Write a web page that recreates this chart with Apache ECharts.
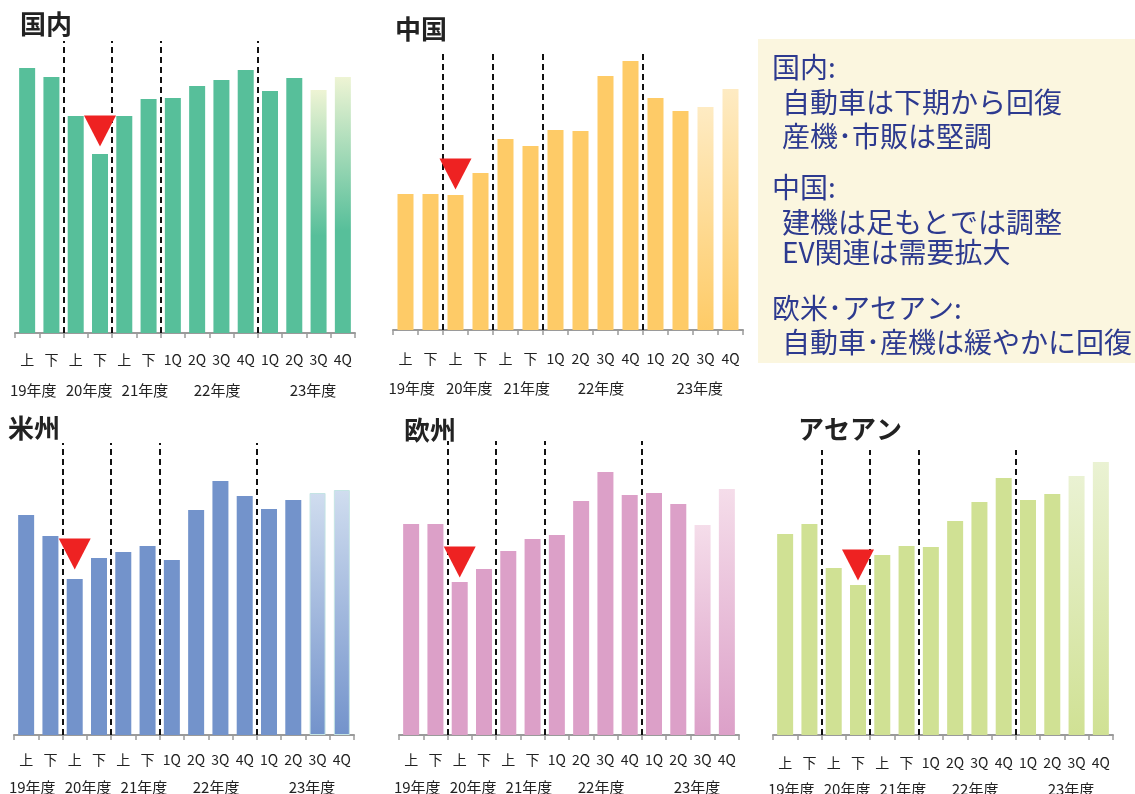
<!DOCTYPE html>
<html>
<head>
<meta charset="utf-8">
<script src="https://cdn.jsdelivr.net/npm/echarts@6/dist/echarts.min.js"></script>
<style>
  html, body { margin: 0; padding: 0; background: #fff; }
  #main { width: 1135px; height: 794px; }
</style>
</head>
<body>
<div id="main"></div>
<script>
// 期間ラベル
const periodLabels = ['上', '下', '上', '下', '上', '下', '1Q', '2Q', '3Q', '4Q', '1Q', '2Q', '3Q', '4Q'];
const yearLabels = ['19年度', '20年度', '21年度', '22年度', '23年度'];
const yearSizes = [2, 2, 2, 4, 4];
const forecastFrom = 12; // 23年度 3Q,4Q は見通し

// 地域別の値
const domestic = [265, 256, 217, 179, 217, 234, 235, 247, 253, 263, 242, 255, 243, 256];
const china = [136, 136, 135, 157, 191, 184, 200, 199, 254, 269, 232, 219, 223, 241];
const americas = [220, 199, 156, 177, 183, 189, 175, 225, 254, 239, 226, 235, 242, 245];
const europe = [211, 211, 153, 166, 184, 196, 200, 234, 263, 240, 242, 231, 210, 246];
const asean = [201, 211, 167, 150, 180, 189, 188, 214, 233, 257, 235, 241, 259, 273];

// 落ち込みマーカー [期間index, 値]
const domesticDrop = [3, 202];
const chinaDrop = [2, 156];
const americasDrop = [2, 181];
const europeDrop = [2, 173];
const aseanDrop = [3, 170];

const noteLines = ['国内:', '自動車は下期から回復', '産機･市販は堅調', '中国:', '建機は足もとでは調整', 'EV関連は需要拡大', '欧米･アセアン:', '自動車･産機は緩やかに回復'];

// レイアウト
const noteY = [67, 102, 136, 187, 222, 252, 308, 342];
const noteIndent = [0, 1, 1, 0, 1, 1, 0, 1];
// 年度ラベルの位置（棒の幅単位、元図では少しずれている）
const yearLabelPos = [0.75, 3.05, 5.35, 8.32, 12.27];

const panels = [
  {name: '国内', values: domestic, drop: domesticDrop, color: '#57BF9A', fade: '#EEF4D4', stop: 0.6, border: null,
    left: 15, top: 41, width: 340, height: 292, tl: 20, tt: 11, gap1: 20, gap2: 50},
  {name: '中国', values: china, drop: chinaDrop, color: '#FECB67', fade: '#FEEBC3', stop: 1, border: null,
    left: 393, top: 50, width: 350, height: 280, tl: 395, tt: 16, gap1: 22, gap2: 51},
  {name: '米州', values: americas, drop: americasDrop, color: '#7393CB', fade: '#D0DDEF', stop: 1, border: '#C4E4E4',
    left: 14, top: 443, width: 340, height: 292, tl: 8, tt: 415, gap1: 18, gap2: 45},
  {name: '欧州', values: europe, drop: europeDrop, color: '#DCA0C8', fade: '#F5DDEA', stop: 1, border: null,
    left: 399, top: 441, width: 340, height: 294, tl: 404, tt: 417, gap1: 18, gap2: 45},
  {name: 'アセアン', values: asean, drop: aseanDrop, color: '#D0E194', fade: '#EAF2D3', stop: 1, border: null,
    left: 773, top: 450, width: 340, height: 285, tl: 798, tt: 416, gap1: 21, gap2: 47}
];

const FONT = '"Noto Sans CJK JP", "Noto Sans", sans-serif';

// 年度の区切り
let boundaries = [];
let acc = 0;
yearSizes.forEach((s, i) => {
  acc += s;
  if (i < yearSizes.length - 1) boundaries.push(acc);
});

function yearFormatter(v) {
  let i = yearLabelPos.findIndex(p => Math.abs(p - v) < 1e-6);
  return i >= 0 ? yearLabels[i] : '';
}

let option = {
  animation: false,
  backgroundColor: '#fff',
  title: [],
  grid: [],
  xAxis: [],
  yAxis: [],
  series: [],
  graphic: []
};

panels.forEach((p, k) => {
  option.title.push({
    text: p.name, left: p.tl, top: p.tt, padding: 0,
    textStyle: {fontFamily: FONT, fontSize: 26, fontWeight: 'bold', color: '#222'}
  });
  option.grid.push({
    left: p.left, top: p.top, width: p.width, height: p.height,
    containLabel: false, outerBoundsMode: 'none'
  });
  // 期間ラベルの軸
  option.xAxis.push({
    type: 'category', gridIndex: k, position: 'bottom', data: periodLabels,
    boundaryGap: true,
    axisLine: {show: true, onZero: false, lineStyle: {color: '#9A9A9A', width: 2}},
    axisTick: {show: true, length: 5, lineStyle: {color: '#9A9A9A', width: 1.5}},
    axisLabel: {margin: p.gap1, interval: 0, color: '#222', fontSize: 14, fontFamily: FONT},
    splitLine: {show: false}
  });
  // 年度ラベル・区切り線用の軸
  option.xAxis.push({
    type: 'value', gridIndex: k, position: 'bottom', min: 0, max: periodLabels.length,
    axisLine: {show: false, onZero: false},
    axisTick: {show: false},
    splitLine: {show: false},
    axisLabel: {
      margin: p.gap2, color: '#222', fontSize: 15, fontFamily: FONT,
      customValues: yearLabelPos,
      formatter: yearFormatter
    }
  });
  option.yAxis.push({
    type: 'value', gridIndex: k, min: 0, max: p.height, show: false,
    splitLine: {show: false}
  });

  let fadeColor = new echarts.graphic.LinearGradient(0, 0, 0, 1, [
    {offset: 0, color: p.fade},
    {offset: p.stop, color: p.color},
    {offset: 1, color: p.color}
  ]);
  option.series.push({
    name: p.name, type: 'bar', xAxisIndex: 2 * k, yAxisIndex: k,
    barWidth: 16,
    itemStyle: {color: p.color},
    data: p.values.map((v, i) => i >= forecastFrom
      ? {value: v, itemStyle: {color: fadeColor, borderColor: p.border || 'transparent', borderWidth: p.border ? 1 : 0}}
      : v)
  });
  option.series.push({
    type: 'scatter', xAxisIndex: 2 * k, yAxisIndex: k, z: 5,
    symbol: 'triangle', symbolRotate: 180, symbolSize: [32, 31],
    itemStyle: {color: '#EE2222', opacity: 1},
    silent: true,
    data: [p.drop]
  });
  option.series.push({
    type: 'line', xAxisIndex: 2 * k + 1, yAxisIndex: k, data: [], z: 4,
    markLine: {
      silent: true, symbol: ['none', 'none'],
      label: {show: false},
      lineStyle: {color: '#111', width: 2, type: [6, 4]},
      data: boundaries.map(b => ({xAxis: b}))
    }
  });
});

// コメント枠
option.graphic.push({
  type: 'rect', left: 758, top: 39, shape: {width: 380, height: 324},
  style: {fill: '#FBF6DF'}, silent: true
});
noteLines.forEach((t, i) => {
  option.graphic.push({
    type: 'text', x: noteIndent[i] ? 782 : 772, y: noteY[i],
    style: {text: t, fill: '#2D3A8F', fontSize: 28, fontFamily: FONT, verticalAlign: 'middle', align: 'left'},
    silent: true
  });
});

let chart = echarts.init(document.getElementById('main'));
chart.setOption(option);
</script>
</body>
</html>
